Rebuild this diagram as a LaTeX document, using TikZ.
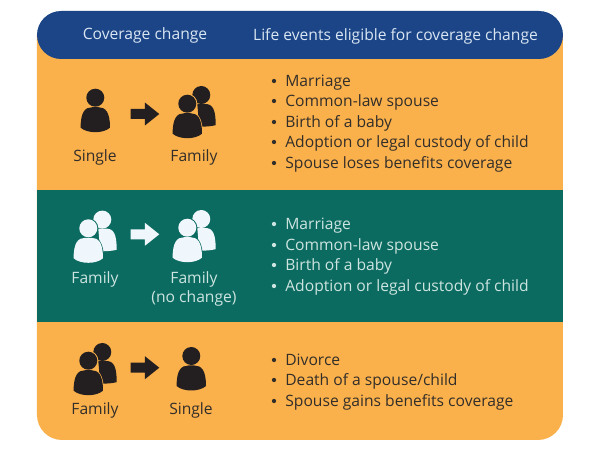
\documentclass[tikz,border=0pt]{standalone}
\usepackage{fontspec}
\setmainfont{Open Sans}
\definecolor{band1}{RGB}{251,177,75}
\definecolor{band2}{RGB}{11,107,96}
\definecolor{navy1}{RGB}{27,69,135}
\definecolor{ink1}{RGB}{35,31,32}
\definecolor{paper1}{RGB}{240,247,252}
\definecolor{label1}{RGB}{50,46,42}
\definecolor{label2}{RGB}{205,228,224}
\definecolor{label3}{RGB}{218,230,242}
\tikzset{
  txt/.style={inner sep=0pt,font=\fontsize{8.9}{10}\selectfont},
  item/.style={txt,anchor=base west},
  dot/.style={circle,inner sep=0pt,minimum size=0.085cm},
  pics/blockarrow/.style={code={
    \fill[#1] (-14.3,-5) -- (0,-5) -- (0,-11.4) -- (14.3,0) -- (0,11.4) -- (0,5) -- (-14.3,5) -- cycle;
  }},
  pics/person/.style={code={
    \fill[#1] (0,0) circle (9);
    \fill[#1] (-14.7,30) .. controls (-14.7,14) and (-10,9.5) .. (-3,9.5) -- (3,9.5)
      .. controls (10,9.5) and (14.7,14) .. (14.7,30) .. controls (8,36) and (-8,36) .. (-14.7,30) -- cycle;
  }},
  pics/family/.style n args={2}{code={
    % back one first
    \fill[#1] (14,-8.7) circle (9);
    \fill[#1] (10,0.3) -- (18,0.3) .. controls (25.5,0.3) and (28.4,6) .. (28.4,21.5) .. controls (24,22.5) and (20,23) .. (12,23) -- cycle;
    % front one has a rim in the band colour
    \fill[#2] (0,0) circle (10);
    \fill[#2] (-15.6,31) .. controls (-15.6,13.5) and (-10,8.6) .. (-3,8.6) -- (3,8.6)
      .. controls (10,8.6) and (15.6,13.5) .. (15.6,31) -- cycle;
    \pic {person=#1};
  }},
}
\begin{document}
\begin{tikzpicture}[x=0.02cm,y=-0.02cm]
\useasboundingbox (0,0) rectangle (600,453);
\fill[white] (0,0) rectangle (600,453);
%
\fill[band1] (37,35) {[rounded corners=0.5cm] -- (37,440) -- (563,440)} -- (563,35) -- cycle;
\fill[navy1,rounded corners=0.48cm] (37,11) rectangle (563,59);
\fill[band2] (37,190) rectangle (563,322);
%
\node[txt,text=label3] (head1) at (145,35) {Coverage change};
\node[txt,text=label3] (head2) at (395.5,36) {Life events eligible for coverage change};
%
% first band
\pic at (95.3,97.7) {person=ink1};
\pic at (187.3,103.7) {family={ink1}{band1}};
\pic at (145,114) {blockarrow=ink1};
\node[txt,text=label1] (from1) at (95,157.5) {Single};
\node[txt,text=label1] (to1) at (194,157.5) {Family};
%
% second band
\pic at (88.3,228.3) {family={paper1}{band2}};
\pic at (187.3,227.7) {family={paper1}{band2}};
\pic at (145,234.3) {blockarrow=paper1};
\node[txt,text=label2] (from2) at (95,279.5) {Family};
\node[txt,text=label2] (to2) at (194,279.5) {Family};
\node[txt,text=label2] (note2) at (194,298.5) {(no change)};
%
% third band
\pic at (88.3,360.7) {family={ink1}{band1}};
\pic at (191.3,356) {person=ink1};
\pic at (145,367.7) {blockarrow=ink1};
\node[txt,text=label1] (from3) at (95,410.5) {Family};
\node[txt,text=label1] (to3) at (191,410.5) {Single};
%
\foreach \y/\t/\c in {87/Marriage/label1,107/Common-law spouse/label1,128/Birth of a baby/label1,148/Adoption or legal custody of child/label1,169/Spouse loses benefits coverage/label1,
  230/Marriage/label2,251/Common-law spouse/label2,271/Birth of a baby/label2,292/Adoption or legal custody of child/label2,
  366/Divorce/label1,386/{Death of a spouse/child}/label1,407/Spouse gains benefits coverage/label1}
{
  \node[dot,fill=\c] at (274,\y-6) {};
  \node[item,text=\c] at (285,\y) {\t};
}
\end{tikzpicture}
\end{document}
